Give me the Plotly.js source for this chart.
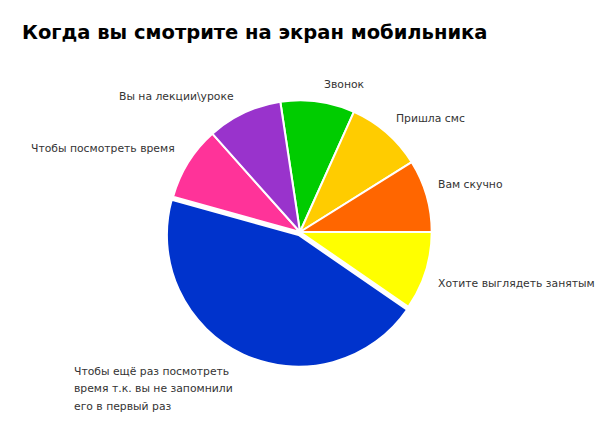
<!DOCTYPE html>
<html>
<head>
<meta charset="utf-8">
<script src="https://cdn.plot.ly/plotly-3.0.1.min.js"></script>
<style>
  body { margin: 0; background: #fff; }
  #chart { width: 606px; height: 438px; }
</style>
</head>
<body>
<div id="chart"></div>
<script>
// данные (доли)
var labels = ["Звонок", "Пришла смс", "Вам скучно", "Хотите выглядеть занятым",
              "Чтобы ещё раз посмотреть время т.к. вы не запомнили его в первый раз",
              "Чтобы посмотреть время", "Вы на лекции\\уроке"];
var values = [9.1, 9.4, 8.9, 9.6, 44.7, 9.1, 9.2];
var colors = ["#00cc00", "#ffcc00", "#ff6600", "#ffff00", "#0033cc", "#ff3399", "#9933cc"];
var pulls = [0, 0, 0, 0, 0.025, 0, 0];
// подписи как на картинке (строки)
var labelLines = [["Звонок"], ["Пришла смс"], ["Вам скучно"], ["Хотите выглядеть занятым"],
                  ["Чтобы ещё раз посмотреть", "время т.к. вы не запомнили", "его в первый раз"],
                  ["Чтобы посмотреть время"], ["Вы на лекции\\уроке"]];
var labelPos = [[322, 85], [394, 118], [436, 184], [436, 283], [72, 371], [29, 148], [117, 96]];
var lineStep = 17.5;

var W = 606, H = 438;

var trace = {
  type: 'pie',
  labels: labels,
  values: values,
  sort: false,
  direction: 'clockwise',
  rotation: -8.6,
  pull: pulls,
  marker: { colors: colors, line: { color: '#ffffff', width: 2 } },
  textinfo: 'none',
  hoverinfo: 'label+percent',
  domain: { x: [165 / W, 435 / W], y: [1 - 367 / H, 1 - 97 / H] }
};

var ann = [];
for (var i = 0; i < labelLines.length; i++) {
  for (var j = 0; j < labelLines[i].length; j++) {
    ann.push({
      xref: 'paper', yref: 'paper',
      x: labelPos[i][0] / W,
      y: 1 - (labelPos[i][1] + j * lineStep) / H,
      xanchor: 'left', yanchor: 'middle',
      text: labelLines[i][j],
      showarrow: false,
      font: { family: 'DejaVu Sans, Verdana, sans-serif', size: 10.8, color: '#333333' }
    });
  }
}

var layout = {
  width: W, height: H,
  margin: { l: 0, r: 0, t: 0, b: 0 },
  paper_bgcolor: '#ffffff',
  showlegend: false,
  title: {
    text: '<b>Когда вы смотрите на экран мобильника</b>',
    x: 22 / W, xanchor: 'left', xref: 'paper',
    y: 1 - 32 / H, yanchor: 'middle', yref: 'paper',
    font: { family: 'DejaVu Sans, Verdana, sans-serif', size: 19.5, color: '#000000' }
  },
  annotations: ann
};

Plotly.newPlot('chart', [trace], layout, { displayModeBar: false, staticPlot: true });
</script>
</body>
</html>
